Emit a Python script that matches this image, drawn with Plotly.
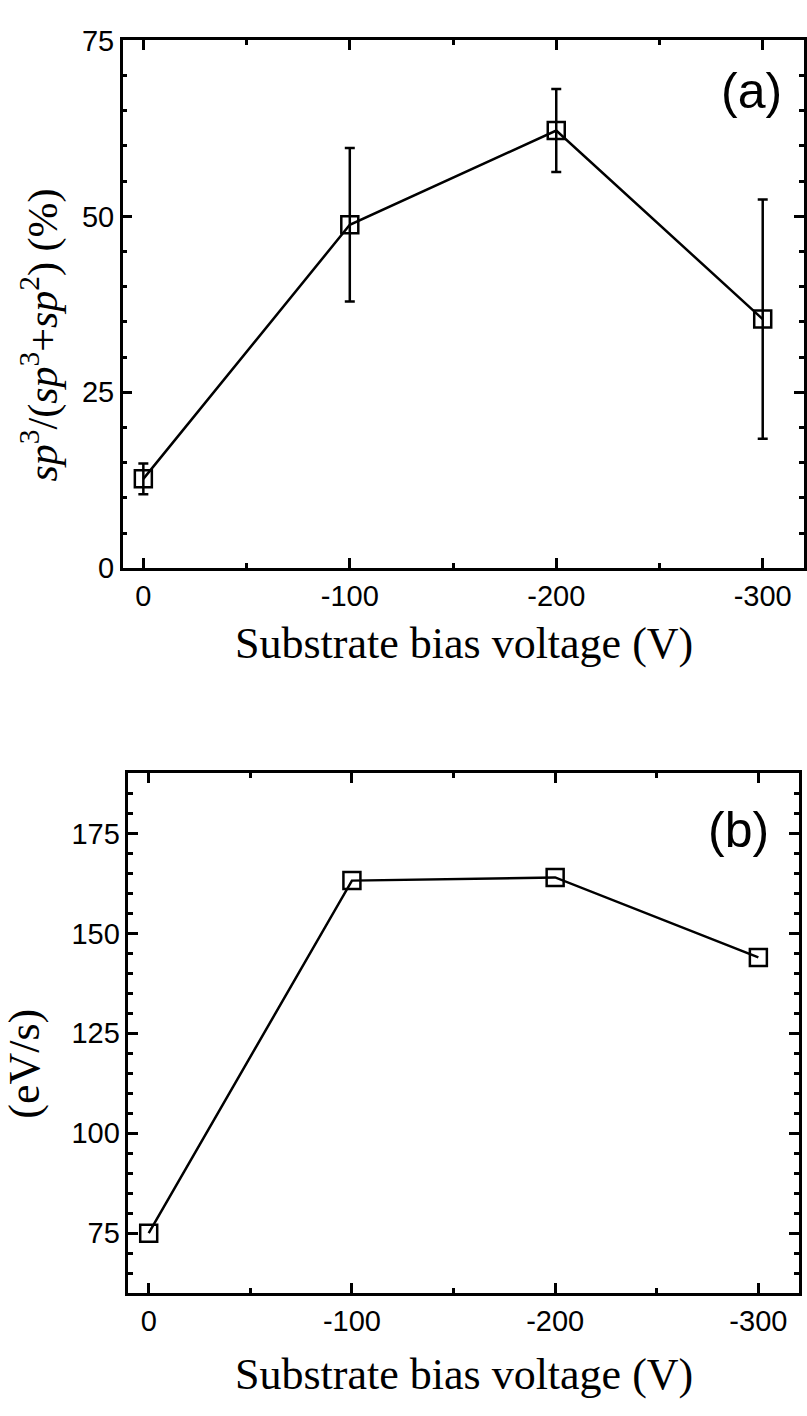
import plotly.graph_objects as go

# ---- data ----
bias_voltage = [0, -100, -200, -300]
sp3_fraction = [12.7, 48.8, 62.2, 35.4]
sp3_error = [2.2, 10.9, 5.9, 17.0]
rate_ev_s = [75.0, 163.2, 164.0, 144.0]

x_ticks = [0, -100, -200, -300]
x_ticklabels = ["0", "-100", "-200", "-300"]
ya_ticks = [0, 25, 50, 75]
yb_ticks = [75, 100, 125, 150, 175]

W, H = 807, 1416
TICKFONT = dict(family="Arial", size=29, color="black")
TITLEFONT = dict(family="Times New Roman", size=44, color="black")
YTITLEFONT = dict(family="Times New Roman", size=42, color="black")
PANELFONT = dict(family="Arial", size=50, color="black")

fig = go.Figure()

fig.add_trace(go.Scatter(
    x=bias_voltage, y=sp3_fraction, mode="lines+markers",
    line=dict(color="black", width=2.5),
    marker=dict(symbol="square-open", size=17, color="black", line=dict(width=2.5, color="black")),
    error_y=dict(type="data", array=sp3_error, visible=True, color="black", thickness=2.5, width=5),
    xaxis="x", yaxis="y", showlegend=False,
))
fig.add_trace(go.Scatter(
    x=bias_voltage, y=rate_ev_s, mode="lines+markers",
    line=dict(color="black", width=2.5),
    marker=dict(symbol="square-open", size=17, color="black", line=dict(width=2.5, color="black")),
    xaxis="x2", yaxis="y2", showlegend=False,
))

def px_x(p):
    return p / W

def px_y(p):
    return 1 - p / H

common_x = dict(
    range=[10, -320], tickvals=x_ticks, ticktext=x_ticklabels,
    showline=True, linecolor="black", linewidth=2.5, mirror="ticks",
    ticks="inside", ticklen=10, tickwidth=2.5, tickcolor="black",
    minor=dict(ticks="inside", ticklen=5, tickwidth=2.5, tickcolor="black", dtick=50, showgrid=False),
    showgrid=False, zeroline=False, tickfont=TICKFONT,
)
common_y = dict(
    showline=True, linecolor="black", linewidth=2.5, mirror="ticks",
    ticks="inside", ticklen=10, tickwidth=2.5, tickcolor="black",
    showgrid=False, zeroline=False, tickfont=TICKFONT,
)

fig.update_layout(
    width=W, height=H,
    margin=dict(l=0, r=0, t=0, b=0),
    paper_bgcolor="white", plot_bgcolor="white",
    font=dict(family="Arial", size=29, color="black"),
    xaxis=dict(common_x, domain=[px_x(123), px_x(806)], anchor="y"),
    yaxis=dict(common_y, domain=[px_y(565), px_y(25)], anchor="x", range=[0, 75],
               tickvals=ya_ticks,
               minor=dict(ticks="inside", ticklen=5, tickwidth=2.5, tickcolor="black", dtick=5, showgrid=False)),
    xaxis2=dict(common_x, domain=[px_x(128.7), px_x(801)], anchor="y2"),
    yaxis2=dict(common_y, domain=[px_y(1306.7), px_y(775)], anchor="x2", range=[60, 190],
                tickvals=yb_ticks,
                minor=dict(ticks="inside", ticklen=5, tickwidth=2.5, tickcolor="black", dtick=5, showgrid=False)),
)

annotations = [
    dict(text="(a)", x=px_x(753), y=px_y(77), font=PANELFONT),
    dict(text="(b)", x=px_x(740), y=px_y(833), font=PANELFONT),
    dict(text="Substrate bias voltage (V)", x=px_x(465), y=px_y(642), font=TITLEFONT),
    dict(text="Substrate bias voltage (V)", x=px_x(465), y=px_y(1390), font=TITLEFONT),
    dict(text="<i>sp</i><sup>3</sup>/(<i>sp</i><sup>3</sup>+<i>sp</i><sup>2</sup>) (%)",
         x=px_x(40), y=px_y(326), textangle=-90, font=YTITLEFONT),
    dict(text="(eV/s)", x=px_x(25), y=px_y(1072), textangle=-90, font=TITLEFONT),
]
for a in annotations:
    a.update(xref="paper", yref="paper", showarrow=False, xanchor="center", yanchor="middle")
fig.update_layout(annotations=annotations)

fig.write_html("out.html")
